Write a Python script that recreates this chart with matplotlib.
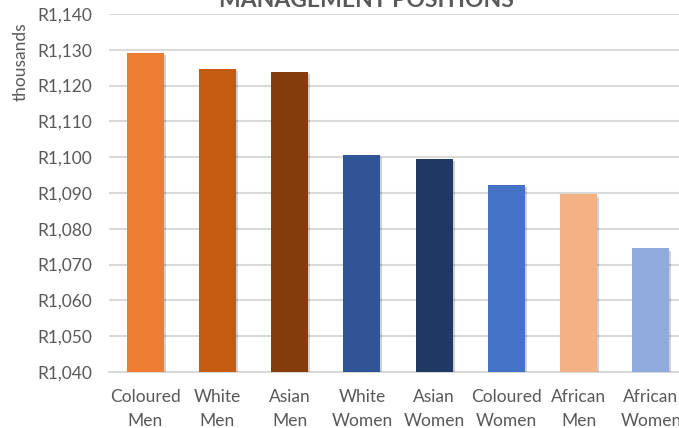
import matplotlib.pyplot as plt
import matplotlib.patheffects as pe
from matplotlib.ticker import FuncFormatter

# --- data ---
categories = ["Coloured\nMen", "White\nMen", "Asian\nMen", "White\nWomen",
              "Asian\nWomen", "Coloured\nWomen", "African\nMen", "African\nWomen"]
salaries = [1129.1, 1124.7, 1123.9, 1100.7, 1099.6, 1092.3, 1089.6, 1074.5]
bar_colors = ["#ED7D31", "#C55A11", "#843C0C", "#2F5597",
              "#1F3864", "#4472C4", "#F4B183", "#8FAADC"]
y_ticks = list(range(1040, 1141, 10))

plt.rcParams['font.family'] = ['Lato', 'DejaVu Sans']
text_grey = '#595959'

fig = plt.figure(figsize=(6.79, 4.28), dpi=100)
# axes runs a little past the right edge, like the cropped original
ax = fig.add_axes([109 / 679, 1 - 372 / 428, 578 / 679, 358 / 428])

x = range(len(categories))
bars = ax.bar(x, [v - 1040 for v in salaries], bottom=1040, width=0.51,
              color=bar_colors, zorder=3)
for b in bars:
    b.set_path_effects([pe.SimplePatchShadow(offset=(1.5, -1.5), shadow_rgbFace='#000000', alpha=0.18),
                        pe.Normal()])

ax.set_xlim(-0.5, len(categories) - 0.5)
ax.set_ylim(1040, 1140)
ax.set_yticks(y_ticks)
ax.yaxis.set_major_formatter(FuncFormatter(lambda v, _: f"R{v:,.0f}"))
ax.set_xticks(list(x))
ax.set_xticklabels(categories, linespacing=1.65)

ax.grid(axis='y', color='#d9d9d9', linewidth=1.5, zorder=0)
for s in ['top', 'right', 'left']:
    ax.spines[s].set_visible(False)
ax.spines['bottom'].set_color('#d9d9d9')
ax.spines['bottom'].set_linewidth(1.5)
ax.tick_params(axis='both', length=0, colors=text_grey, labelsize=12.5)
ax.tick_params(axis='x', pad=12)
ax.tick_params(axis='y', pad=12)

fig.text(21 / 679, 1 - 62 / 428, 'thousands', rotation=90, ha='center', va='center',
         color=text_grey, fontsize=12.5)
# title is cropped at the top edge in the original
fig.text(366 / 679, 1 - 7 / 428, 'MANAGEMENT POSITIONS', ha='center', va='baseline',
         color=text_grey, fontsize=16.5, fontweight='bold')

fig.savefig('out.png', dpi=100)
